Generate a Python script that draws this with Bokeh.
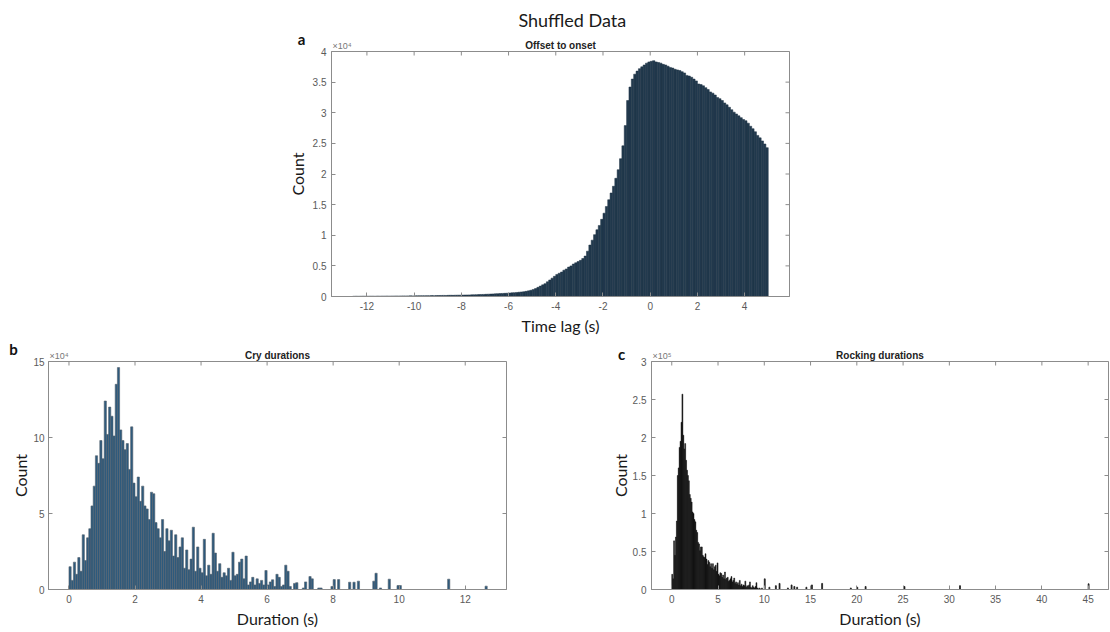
import math
from bokeh.plotting import figure
from bokeh.models import Range1d, Label, FixedTicker, NumeralTickFormatter
from bokeh.layouts import column, row
from bokeh.embed import file_html
from bokeh.resources import INLINE

# ---------------- data ----------------
# a) Offset to onset: histogram of time lag (s), counts in units of 1e4
offset_bin_start = -12.6
offset_bin_width = 0.1
offset_counts_e4 = [
    0.004, 0.005, 0.004, 0.005, 0.006, 0.005,
    0.005, 0.006, 0.006, 0.005, 0.007, 0.006, 0.007, 0.007, 0.008, 0.007,
    0.008, 0.008, 0.009, 0.008, 0.009, 0.010, 0.009, 0.010, 0.011, 0.010,
    0.011, 0.012, 0.012, 0.013, 0.012, 0.014, 0.013, 0.015, 0.014, 0.016,
    0.016, 0.017, 0.018, 0.017, 0.019, 0.020, 0.019, 0.021, 0.022, 0.022,
    0.023, 0.024, 0.025, 0.026, 0.027, 0.028, 0.030, 0.031, 0.033, 0.034,
    0.036, 0.038, 0.040, 0.042, 0.044, 0.046, 0.048, 0.050, 0.052, 0.054,
    0.057, 0.060, 0.063, 0.066, 0.070, 0.074, 0.078, 0.084, 0.092, 0.102,
    0.115, 0.13, 0.15, 0.17, 0.19, 0.21, 0.24, 0.27, 0.30, 0.33,
    0.36, 0.38, 0.40, 0.43, 0.45, 0.48, 0.50, 0.53, 0.55, 0.57,
    0.59, 0.62, 0.66, 0.74, 0.84, 0.92, 1.01, 1.09, 1.16, 1.26,
    1.36, 1.47, 1.58, 1.69, 1.80, 1.93, 2.07, 2.25, 2.46, 2.79,
    3.20, 3.42, 3.55, 3.63, 3.68, 3.72, 3.75, 3.78, 3.81, 3.83,
    3.84, 3.85, 3.83, 3.82, 3.81, 3.79, 3.78, 3.76, 3.74, 3.73,
    3.71, 3.70, 3.69, 3.67, 3.65, 3.61, 3.60, 3.58, 3.55, 3.52,
    3.47, 3.46, 3.44, 3.41, 3.38, 3.34, 3.32, 3.29, 3.25, 3.23,
    3.20, 3.16, 3.13, 3.09, 3.05, 3.01, 2.98, 2.95, 2.92, 2.89,
    2.87, 2.83, 2.78, 2.74, 2.69, 2.63, 2.59, 2.54, 2.49, 2.43,
]

# b) Cry durations (s), counts in units of 1e4
cry_bin_start = 0.0
cry_bin_width = 1 / 15
cry_counts_e4 = [
    1.5, 0.6, 1.8, 1.0, 2.1, 1.2, 3.6, 1.9, 3.4, 4.0,
    5.5, 6.8, 8.8, 8.3, 9.8, 8.6, 12.4, 10.2, 12.0, 11.4,
    10.1, 13.5, 14.6, 10.5, 9.8, 9.2, 9.6, 7.9, 10.7, 7.0,
    6.1, 7.4, 5.8, 6.8, 5.5, 5.3, 4.6, 6.4, 6.3, 4.4,
    4.0, 3.4, 4.6, 2.5, 4.0, 3.2, 3.9, 2.2, 3.6, 2.1,
    2.8, 3.4, 1.4, 2.6, 1.3, 2.0, 4.1, 1.2, 2.8, 1.4,
    1.1, 3.3, 0.9, 1.6, 1.0, 3.7, 2.4, 1.2, 1.7, 0.8,
    1.1, 0.9, 1.4, 0.6, 2.45, 0.9, 1.0, 1.8, 2.0, 0.7,
    2.2, 0.3, 0.5, 0.8, 0.3, 0.7, 0.4, 0.6, 0.3, 1.25,
    0.3, 0.5, 0.64, 0.2, 1.0, 0.8, 0.2, 0.3, 1.6, 1.2,
    0.2, 0.0, 0.4, 0.45, 0.0, 0.0, 0.1, 0.5, 0.0, 0.85,
    0.7, 0.0, 0.0, 0.1, 0.1,
]
cry_tail_durations = [7.933, 8.0, 8.133, 8.467, 8.6, 8.733, 9.2, 9.267, 9.4, 9.667, 9.933, 10.0, 11.467, 12.6]
cry_tail_counts_e4 = [0.2, 0.65, 0.65, 0.48, 0.48, 0.55, 0.55, 1.07, 0.1, 0.68, 0.26, 0.26, 0.68, 0.22]

# c) Rocking durations (s), counts in units of 1e5
rock_bin_start = 0.0
rock_bin_width = 0.1
rock_counts_e5 = [
    0.2, 0.14, 0.64, 0.45, 0.69, 0.9, 1.5, 1.6, 1.87, 1.95,
    2.2, 2.57, 2.03, 1.85, 1.92, 1.7, 1.57, 1.5, 1.43, 1.25,
    1.2, 1.15, 1.02, 1.0, 0.92, 0.89, 0.78, 0.75, 0.62, 0.6,
    0.51, 0.56, 0.56, 0.45, 0.43, 0.42, 0.47, 0.4, 0.33, 0.38,
    0.36, 0.3, 0.34, 0.28, 0.34, 0.26, 0.3, 0.32, 0.24, 0.35,
    0.2, 0.18, 0.22, 0.21, 0.16, 0.19, 0.14, 0.23, 0.13, 0.15,
    0.16, 0.11, 0.12, 0.14, 0.17, 0.1, 0.12, 0.15, 0.08, 0.1,
    0.07, 0.09, 0.06, 0.12, 0.05, 0.07, 0.04, 0.06, 0.05, 0.11,
    0.03, 0.05, 0.04, 0.06, 0.1, 0.03, 0.02, 0.05, 0.03, 0.02,
    0.04, 0.09, 0.02, 0.0, 0.02, 0.01, 0.0, 0.02, 0.0, 0.0,
]
rock_tail_durations = [10.0, 10.5, 11.2, 11.6, 12.5, 12.9, 13.2, 13.5, 14.5, 15.1, 16.2, 19.3, 20.0, 20.9, 25.1, 31.1, 45.0]
rock_tail_counts_e5 = [0.14, 0.03, 0.05, 0.08, 0.02, 0.06, 0.04, 0.03, 0.03, 0.06, 0.08, 0.02, 0.03, 0.04, 0.04, 0.05, 0.075]

offset_xticks = [-12, -10, -8, -6, -4, -2, 0, 2, 4]
offset_yticks = [0, 0.5, 1, 1.5, 2, 2.5, 3, 3.5, 4]
cry_xticks = [0, 2, 4, 6, 8, 10, 12]
cry_yticks = [0, 5, 10, 15]
rock_xticks = [0, 5, 10, 15, 20, 25, 30, 35, 40, 45]
rock_yticks = [0, 0.5, 1, 1.5, 2, 2.5, 3]

# ---------------- styling ----------------
AX = "#8c8c8c"
TICK_TXT = "#5a5a5a"
SANS = "Liberation Sans"
CAL = "Lato"


def panel(width, height, xr, yr, borders, title, xticks, yticks, xlabel,
          xlab_standoff, ylab_standoff, ytick_standoff=5):
    l, r, t, b = borders
    p = figure(width=width, height=height, x_range=Range1d(*xr), y_range=Range1d(*yr),
               output_backend="svg", toolbar_location=None,
               min_border_left=l, min_border_right=r, min_border_top=t, min_border_bottom=b)
    p.grid.visible = False
    p.outline_line_color = AX
    p.outline_line_width = 1
    p.title.text = title
    p.title.align = "center"
    p.title.text_font = SANS
    p.title.text_font_size = "10px"
    p.title.text_font_style = "bold"
    p.title.text_color = "#222222"
    p.title.standoff = 2
    for ax, ticks in ((p.xaxis[0], xticks), (p.yaxis[0], yticks)):
        ax.ticker = FixedTicker(ticks=ticks)
        ax.formatter = NumeralTickFormatter(format="0.[0]")
        ax.major_tick_in = 4
        ax.major_tick_out = 0
        ax.minor_tick_line_color = None
        ax.axis_line_color = AX
        ax.major_tick_line_color = AX
        ax.major_label_text_font = SANS
        ax.major_label_text_font_size = "10px"
        ax.major_label_text_color = TICK_TXT
        ax.major_label_standoff = 5
        ax.axis_label_text_font = CAL
        ax.axis_label_text_font_size = "16px"
        ax.axis_label_text_font_style = "normal"
        ax.axis_label_text_color = "#1a1a1a"
    p.xaxis[0].axis_label = xlabel
    p.xaxis[0].axis_label_standoff = xlab_standoff
    p.yaxis[0].axis_label = "Count"
    p.yaxis[0].axis_label_standoff = ylab_standoff
    p.yaxis[0].major_label_standoff = ytick_standoff
    # inward ticks on the top and right edges of the box (half of each dash is clipped away)
    p.scatter(x=xticks, y=[yr[1]] * len(xticks), marker="dash", angle=math.pi / 2, size=8,
              line_color=AX, line_width=1)
    p.scatter(x=[xr[1]] * len(yticks), y=yticks, marker="dash", size=8,
              line_color=AX, line_width=1)
    return p


def side_text(p, side, x, y, dx, dy, txt, font, size, color, bold=False, align="center", baseline="middle"):
    p.add_layout(Label(x=x, y=y, x_offset=dx, y_offset=dy, text=txt, text_font=font,
                       text_font_size=size, text_font_style="bold" if bold else "normal",
                       text_color=color, text_align=align, text_baseline=baseline), side)


# ---- panel a ----
a_xr = (-13.5, 5.9)
a_yr = (0, 4)
pa = panel(1110, 338, a_xr, a_yr, (331, 321, 51, 42), "Offset to onset",
           offset_xticks, offset_yticks, "Time lag (s)", 3, 3)
a_left = [offset_bin_start + i * offset_bin_width for i in range(len(offset_counts_e4))]
a_right = [v + offset_bin_width for v in a_left]
pa.quad(left=a_left, right=a_right, bottom=0, top=offset_counts_e4,
        fill_color="#223a4e", line_color="#1c3042", line_width=0.5)
side_text(pa, "left", -3.3, a_yr[1], 0, 32, "Shuffled Data", CAL, "18px", "#1a1a1a")
side_text(pa, "left", a_xr[0], a_yr[1], -30, 13, "a", CAL, "15px", "#111111", bold=True)
side_text(pa, "left", a_xr[0], a_yr[1], 1, 1, "×10⁴", SANS, "9px", "#777777", align="left", baseline="bottom")

# ---- panel b ----
b_xr = (-0.62, 13.25)
b_yr = (0, 15)
pb = panel(560, 294, b_xr, b_yr, (48, 54, 23, 43), "Cry durations",
           cry_xticks, cry_yticks, "Duration (s)", 3, 0, ytick_standoff=4)
b_left = [cry_bin_start + i * cry_bin_width for i in range(len(cry_counts_e4))]
b_right = [v + cry_bin_width for v in b_left]
pb.quad(left=b_left, right=b_right, bottom=0, top=cry_counts_e4,
        fill_color="#2d5a7d", line_color="#56616b", line_width=0.6)
pb.quad(left=cry_tail_durations, right=[v + cry_bin_width for v in cry_tail_durations],
        bottom=0, top=cry_tail_counts_e4,
        fill_color="#2d5a7d", line_color="#56616b", line_width=0.6)
side_text(pb, "right", b_xr[0], b_yr[1], -35, 13, "b", CAL, "15px", "#111111", bold=True)
side_text(pb, "right", b_xr[0], b_yr[1], 1, 1, "×10⁴", SANS, "9px", "#777777", align="left", baseline="bottom")

# ---- panel c ----
c_xr = (-2.19, 47.2)
c_yr = (0, 3)
pc = panel(550, 294, c_xr, c_yr, (91, 2, 23, 43), "Rocking durations",
           rock_xticks, rock_yticks, "Duration (s)", 3, 0)
c_left = [rock_bin_start + i * rock_bin_width for i in range(len(rock_counts_e5))]
c_right = [v + rock_bin_width for v in c_left]
pc.quad(left=c_left, right=c_right, bottom=0, top=rock_counts_e5,
        fill_color="#000000", line_color="#1a1a1a", line_width=0.5)
pc.quad(left=rock_tail_durations, right=[v + rock_bin_width for v in rock_tail_durations],
        bottom=0, top=rock_tail_counts_e5,
        fill_color="#000000", line_color="#222222", line_width=0.8)
side_text(pc, "left", c_xr[0], c_yr[1], -30, 8, "c", CAL, "15px", "#111111", bold=True)
side_text(pc, "left", c_xr[0], c_yr[1], 1, 1, "×10⁵", SANS, "9px", "#777777", align="left", baseline="bottom")

layout = column(pa, row(pb, pc))
open("out.html", "w").write(file_html(layout, INLINE))
